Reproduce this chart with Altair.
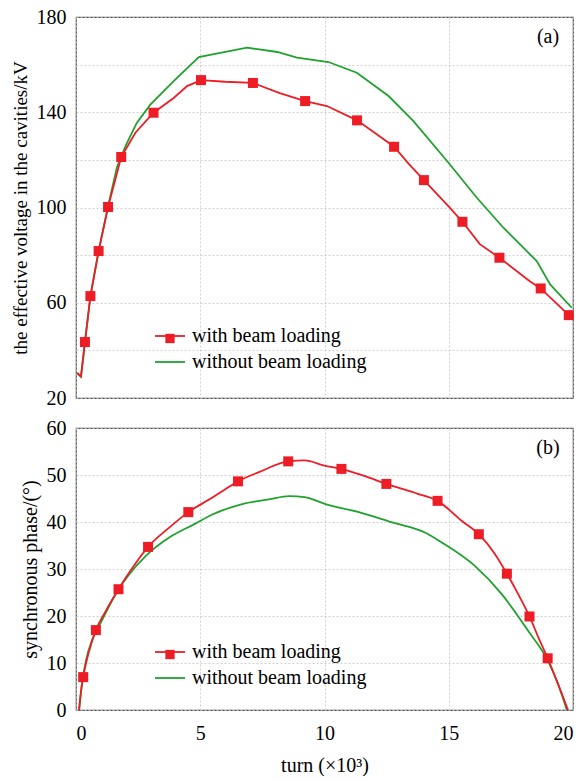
import altair as alt
import pandas as pd

# ---------------- data ----------------
SERIES = ["with beam loading", "without beam loading"]
MARKER_KINDS = ["square", "blank"]

# panel (a): effective voltage (kV) vs turn (x10^3)
a_red_x = [0.05, 0.2, 0.36, 0.58, 0.91, 1.29, 1.82, 2.39, 3.12, 3.93, 4.47, 5.03, 6.0, 7.12,
           8.2, 9.22, 10.1, 11.31, 12.1, 12.8, 13.4, 14.0, 15.05, 15.55, 16.25, 17.04, 18.26,
           18.7, 19.83]
a_red_y = [30.5, 29.0, 43.5, 62.8, 81.7, 100.2, 121.2, 131.4, 139.8, 146.0, 151.0, 153.5, 152.8,
           152.3, 148.0, 144.7, 142.6, 136.6, 130.8, 125.5, 118.2, 111.5, 99.8, 94.0, 84.6, 78.9,
           69.0, 66.0, 54.8]
a_mk_x = [0.36, 0.58, 0.91, 1.29, 1.82, 3.12, 5.03, 7.12, 9.22, 11.31, 12.8, 14.0, 15.55,
          17.04, 18.7, 19.83]
a_mk_y = [43.5, 62.8, 81.7, 100.2, 121.2, 139.8, 153.5, 152.3, 144.7, 136.6, 125.5, 111.5,
          94.0, 78.9, 66.0, 54.8]
a_grn_x = [0.05, 0.2, 0.36, 0.58, 0.91, 1.29, 1.65, 2.0, 2.45, 3.0, 3.93, 4.94, 6.88, 8.1,
           8.89, 10.16, 11.3, 12.58, 13.58, 14.99, 16.13, 17.2, 18.54, 19.08, 19.95]
a_grn_y = [30.5, 29.0, 43.5, 62.8, 81.7, 100.5, 117.0, 126.0, 135.6, 143.3, 153.1, 163.2,
           167.1, 165.3, 162.9, 161.1, 156.6, 146.8, 136.3, 118.8, 104.1, 91.5, 77.5, 67.7, 57.9]

# panel (b): synchronous phase (deg) vs turn (x10^3)
b_red_x = [0.12, 0.2, 0.29, 0.5, 0.8, 1.2, 1.71, 2.28, 2.9, 3.75, 4.52, 5.49, 6.02, 6.52, 7.36,
           8.54, 9.2, 10.0, 10.68, 11.6, 12.49, 13.75, 14.55, 15.53, 16.21, 16.87, 17.34, 17.8,
           18.25, 18.61, 18.98, 19.4, 19.8]
b_red_y = [0.0, 4.0, 7.0, 12.0, 17.0, 21.1, 25.7, 30.3, 34.7, 38.8, 42.1, 45.2, 47.0, 48.65,
           50.6, 52.9, 53.1, 52.0, 51.3, 49.8, 48.1, 46.0, 44.5, 40.2, 37.4, 33.1, 29.0, 24.6,
           19.9, 15.4, 11.0, 5.5, 0.0]
b_mk_x = [0.29, 0.8, 1.71, 2.9, 4.52, 6.52, 8.54, 10.68, 12.49, 14.55, 16.21, 17.34, 18.25,
          18.98]
b_mk_y = [7.0, 17.0, 25.7, 34.7, 42.1, 48.65, 52.9, 51.3, 48.1, 44.5, 37.4, 29.0, 19.9, 11.0]
b_grn_x = [0.13, 0.25, 0.4, 0.67, 1.0, 1.61, 2.81, 3.75, 4.82, 5.49, 6.69, 7.76, 8.57, 9.2,
           10.04, 11.38, 12.72, 14.06, 14.73, 16.06, 17.14, 18.2, 19.0, 19.4, 19.75]
b_grn_y = [0.0, 6.0, 10.5, 15.2, 18.6, 24.8, 32.8, 36.7, 39.7, 41.6, 43.8, 44.8, 45.5, 45.3,
           43.8, 42.1, 39.9, 37.7, 35.6, 30.6, 24.6, 16.8, 10.4, 5.5, 0.0]

x_ticks = [0, 5, 10, 15, 20]
a_y_ticks = [20, 40, 60, 80, 100, 120, 140, 160, 180]
b_y_ticks = [0, 10, 20, 30, 40, 50, 60]

# ---------------- styling ----------------
RED = "#ee1c25"
GREEN = "#1fa22e"
FONT = "Liberation Serif"
FS = 20
W = 497

LINE_PATH = "M-2,0L2,0"
SQ_PATH = "M-0.62,-0.62L0.62,-0.62L0.62,0.62L-0.62,0.62Z"
NONE_PATH = "M0,0"
LEG_SIZE = 225


def lines_df(rx, ry, gx, gy):
    rows = [{"x": x, "y": y, "series": SERIES[1]} for x, y in zip(gx, gy)]
    rows += [{"x": x, "y": y, "series": SERIES[0]} for x, y in zip(rx, ry)]
    return pd.DataFrame(rows)


def panel(ldf, mdf, ydom, yvals, ytitle, title_fs, labelexpr, bottom, tag, h, legY, interp):
    xscale = alt.Scale(domain=[0, 20], nice=False, zero=False)
    yscale = alt.Scale(domain=ydom, nice=False, zero=False)
    xaxis = alt.Axis(values=x_ticks, labels=bottom, title="turn  (×10³)" if bottom else None,
                     ticks=False, tickSize=0, domain=False, grid=True,
                     labelPadding=13, titlePadding=12, format="d")
    yaxis = alt.Axis(values=yvals, labelExpr=labelexpr, title=ytitle, titleFontSize=title_fs,
                     ticks=False, tickSize=0, domain=False, grid=True,
                     labelPadding=10, titlePadding=6)
    common = dict(orient="none", legendX=84, title=None, padding=0,
                  symbolSize=LEG_SIZE, labelOffset=12,
                  labelFont=FONT, labelFontSize=FS, labelLimit=400)
    color_legend = alt.Legend(symbolType=LINE_PATH, symbolStrokeWidth=1.8, legendY=legY,
                              rowPadding=6, labelColor="black", zindex=1, **common)
    shape_legend = alt.Legend(symbolFillColor=RED, symbolStrokeWidth=0, symbolOpacity=1,
                              labelExpr="''", legendY=legY + 2.5, rowPadding=11,
                              zindex=2, **common)
    lines = alt.Chart(ldf).mark_line(strokeWidth=1.8, clip=True, interpolate=interp).encode(
        x=alt.X("x:Q", scale=xscale, axis=xaxis),
        y=alt.Y("y:Q", scale=yscale, axis=yaxis),
        color=alt.Color("series:N", scale=alt.Scale(domain=SERIES, range=[RED, GREEN]),
                        legend=color_legend),
    )
    marks = alt.Chart(mdf).mark_point(size=260, filled=True, color=RED, opacity=1,
                                      strokeWidth=0).encode(
        x=alt.X("x:Q", scale=xscale),
        y=alt.Y("y:Q", scale=yscale),
        shape=alt.Shape("kind:N", scale=alt.Scale(domain=MARKER_KINDS,
                                                  range=[SQ_PATH, NONE_PATH]),
                        legend=shape_legend),
    )
    label = alt.Chart(pd.DataFrame({"t": [tag]})).mark_text(
        font=FONT, fontSize=FS, color="black", align="center", baseline="middle"
    ).encode(text="t:N", x=alt.value(W - 25), y=alt.value(20))
    return alt.layer(lines, marks, label).properties(width=W, height=h)


a_marks = pd.DataFrame({"x": a_mk_x, "y": a_mk_y, "kind": MARKER_KINDS[0]})
b_marks = pd.DataFrame({"x": b_mk_x, "y": b_mk_y, "kind": MARKER_KINDS[0]})

top = panel(
    lines_df(a_red_x, a_red_y, a_grn_x, a_grn_y), a_marks,
    [20, 180], a_y_ticks, "the effective voltage in the cavities/kV", 19,
    "datum.value % 40 == 20 ? datum.label : ''", False, "(a)", 381, 309, "linear",
)
bottom = panel(
    lines_df(b_red_x, b_red_y, b_grn_x, b_grn_y), b_marks,
    [0, 60], b_y_ticks, "synchronous phase/(°)", 20,
    "datum.label", True, "(b)", 282, 214, "monotone",
)

chart = alt.vconcat(top, bottom, spacing=30, bounds="flush").resolve_scale(
    color="independent", shape="independent"
).resolve_legend(color="independent", shape="independent").properties(
    padding={"left": 10, "top": 6, "right": 0, "bottom": 0},
    background="white",
).configure_view(
    stroke="#555555", strokeWidth=1.2
).configure_axis(
    labelFont=FONT, labelFontSize=FS, labelColor="black",
    titleFont=FONT, titleFontSize=FS, titleColor="black", titleFontWeight="normal",
    gridColor="#c4c4c4", gridDash=[2, 2], gridWidth=0.8,
)

chart.save("out.html", embed_options={"renderer": "svg", "actions": False})
